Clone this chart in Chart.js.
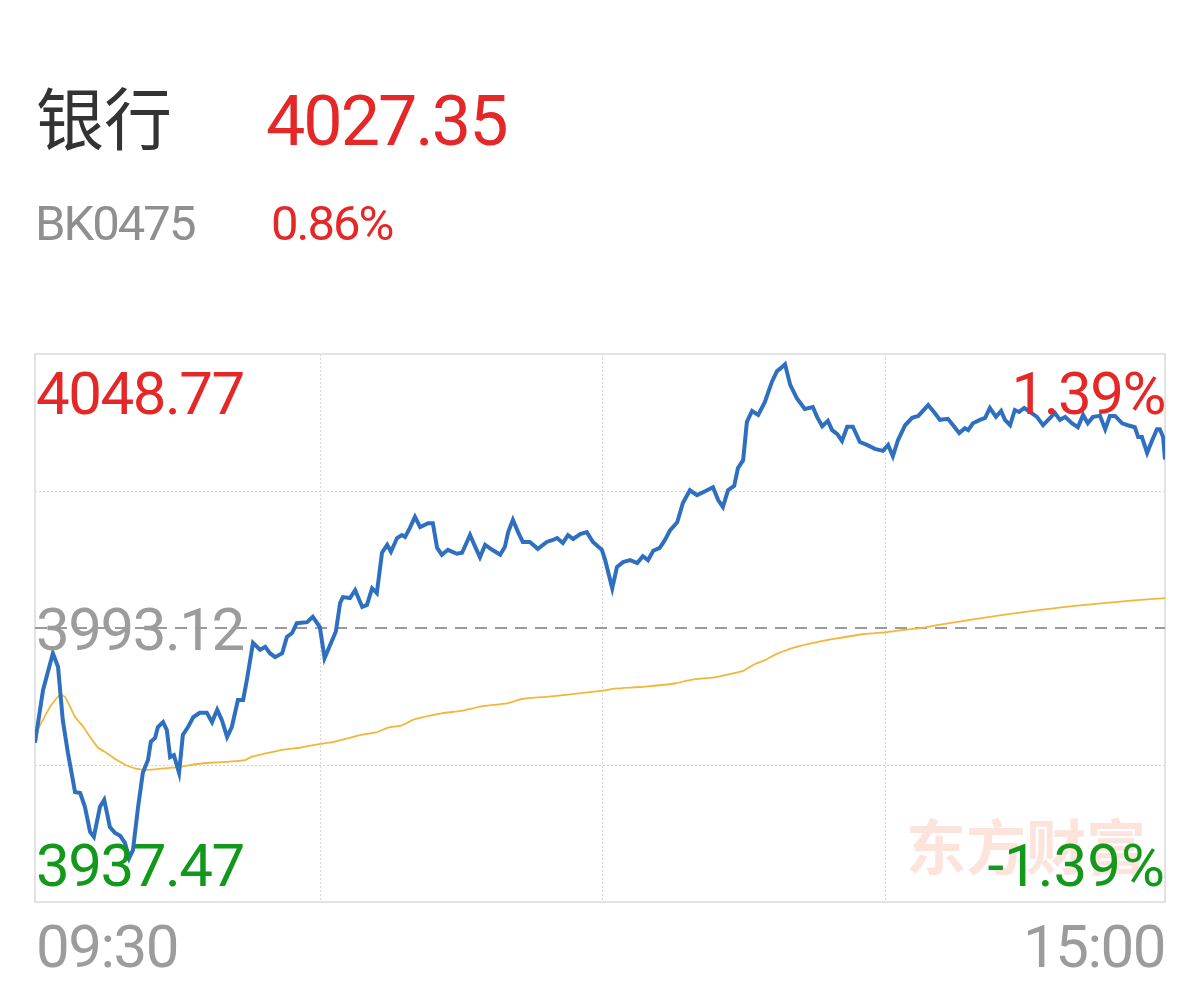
<!DOCTYPE html>
<html>
<head>
<meta charset="utf-8">
<script src="https://cdn.jsdelivr.net/npm/chart.js@4"></script>
<style>
  html, body { margin: 0; padding: 0; background: #fff; }
  #wrap { position: relative; width: 1200px; height: 986px; overflow: hidden; }
  #wrap canvas { position: absolute; left: 0; top: 0; }
  .t { position: absolute; white-space: nowrap; line-height: 1; font-family: Roboto, "Noto Sans", sans-serif; }
  .cjk { font-family: "Noto Sans CJK SC", sans-serif; }
</style>
</head>
<body>
<div id="wrap">
  <canvas id="time-chart" width="1200" height="986"></canvas>
  <div class="t cjk" style="left:36px;top:82px;font-size:68px;color:#333;">银行</div>
  <div class="t" style="left:266px;top:86px;font-size:70px;letter-spacing:-2px;color:#e42828;">4027.35</div>
  <div class="t" style="left:35px;top:199px;font-size:49px;letter-spacing:-2px;color:#8f8f8f;">BK0475</div>
  <div class="t" style="left:271px;top:199px;font-size:49px;letter-spacing:-2px;color:#e42828;">0.86%</div>
  <div class="t cjk" style="left:906px;top:814px;font-size:60px;font-weight:bold;color:#fce4dc;">东方财富</div>
  <div class="t" style="left:36px;top:364px;font-size:60px;letter-spacing:-1.5px;color:#e42828;">4048.77</div>
  <div class="t" style="left:36px;top:600px;font-size:60px;letter-spacing:-1.5px;color:#9c9c9c;">3993.12</div>
  <div class="t" style="left:36px;top:836px;font-size:60px;letter-spacing:-1.5px;color:#12981a;">3937.47</div>
  <div class="t" style="right:35px;top:364px;font-size:60px;letter-spacing:-1.5px;color:#e42828;">1.39%</div>
  <div class="t" style="right:35px;top:836px;font-size:60px;letter-spacing:0px;color:#12981a;">-1.39%</div>
  <div class="t" style="left:36px;top:917px;font-size:60px;letter-spacing:-1.5px;color:#9c9c9c;">09:30</div>
  <div class="t" style="right:35px;top:917px;font-size:60px;letter-spacing:-1.5px;color:#9c9c9c;">15:00</div>
</div>
<script>
// minutes since 09:30 (lunch break removed), 0..240
const priceMinutes = [0, 1.7, 3.8, 4.9, 5.9, 7.0, 8.5, 9.6, 10.6, 11.7, 12.5, 13.8, 14.7, 15.9, 17.0, 18.1, 19.1, 20.0, 20.8, 21.9,
  22.9, 24.0, 24.6, 25.5, 26.1, 27.2, 28.0, 28.7, 29.5, 30.6, 31.4, 32.5, 33.6, 35.0, 36.5, 37.6, 38.7, 39.7, 40.8, 41.8,
  43.1, 44.2, 45.0, 46.3, 47.8, 48.9, 49.9, 51.0, 52.5, 53.5, 54.6, 55.6, 57.8, 59.0, 60.5, 61.5, 63.9, 64.8, 65.4, 66.9,
  68.0, 69.5, 70.5, 71.6, 72.6, 73.7, 74.8, 75.6, 76.9, 77.9, 78.6, 79.6, 80.7, 81.8, 83.5, 84.5, 85.4, 86.4, 87.7, 89.6,
  90.7, 92.4, 93.5, 94.5, 95.6, 97.1, 98.8, 99.8, 100.5, 101.5, 102.6, 103.6, 105.1, 106.8, 108.7, 110.0, 110.9, 112.1, 113.2, 114.3,
  115.8, 117.2, 118.5, 120.4, 121.1, 122.6, 123.6, 124.9, 126.4, 127.9, 129.1, 130.2, 131.3, 132.7, 133.8, 134.9, 136.4, 137.6, 139.1, 140.6,
  141.9, 144.0, 145.1, 146.1, 147.2, 148.5, 149.3, 150.4, 151.2, 152.3, 153.6, 155.0, 156.5, 157.6, 158.4, 159.3, 160.4, 161.8, 163.5, 165.2,
  166.1, 167.2, 168.4, 169.3, 170.4, 171.4, 172.5, 173.7, 175.2, 176.7, 178.4, 180.1, 181.2, 182.2, 183.3, 184.8, 186.3, 187.6, 189.7, 191.1,
  192.2, 193.9, 195.0, 196.3, 197.5, 198.2, 199.2, 200.7, 201.8, 202.8, 204.1, 205.2, 206.0, 207.1, 208.1, 209.0, 210.1, 211.3, 212.8, 214.1,
  215.6, 216.6, 217.7, 218.8, 220.2, 221.5, 222.6, 223.6, 224.7, 226.2, 227.3, 228.3, 229.4, 230.9, 232.1, 233.6, 234.3, 235.1, 236.2, 237.3,
  238.3, 238.9, 239.6, 240];
const priceValues = [3969.8, 3980.5, 3988.0, 3985.2, 3974.4, 3967.7, 3959.8, 3959.6, 3956.8, 3951.7, 3950.7, 3956.8, 3958.2, 3952.7, 3951.5, 3950.9, 3949.5, 3946.4, 3948.0, 3956.8,
  3963.7, 3966.3, 3970.0, 3970.8, 3973.0, 3974.0, 3972.4, 3966.9, 3967.3, 3963.7, 3971.4, 3973.0, 3975.0, 3975.9, 3975.9, 3974.0, 3976.5, 3974.4, 3971.0, 3973.0,
  3978.5, 3978.5, 3982.6, 3990.1, 3988.7, 3989.3, 3988.0, 3987.2, 3988.0, 3991.3, 3992.1, 3994.1, 3994.3, 3995.4, 3993.3, 3987.0, 3992.4, 3998.2, 3999.4, 3999.2,
  4000.8, 3997.4, 3997.8, 4001.2, 4000.2, 4008.4, 4010.0, 4008.6, 4011.4, 4012.0, 4011.6, 4013.4, 4015.7, 4013.6, 4014.4, 4014.4, 4009.4, 4008.0, 4009.0, 4008.2,
  4008.4, 4012.0, 4009.6, 4007.5, 4010.0, 4009.0, 4008.0, 4009.6, 4012.6, 4015.1, 4012.6, 4010.6, 4010.6, 4009.2, 4010.6, 4011.0, 4011.4, 4010.4, 4012.0, 4011.2,
  4012.2, 4012.6, 4010.6, 4009.0, 4006.9, 4001.2, 4005.5, 4006.5, 4006.9, 4006.3, 4007.7, 4006.9, 4008.8, 4009.4, 4011.0, 4013.0, 4014.6, 4018.5, 4021.1, 4020.1,
  4020.7, 4021.7, 4019.1, 4017.7, 4021.1, 4022.0, 4025.6, 4027.2, 4035.0, 4037.2, 4036.4, 4039.0, 4043.1, 4045.3, 4045.9, 4046.7, 4042.5, 4039.8, 4037.6, 4038.0,
  4036.0, 4034.1, 4035.2, 4033.3, 4032.5, 4031.1, 4034.0, 4034.0, 4030.9, 4030.3, 4029.5, 4029.1, 4030.3, 4028.0, 4031.3, 4034.3, 4035.8, 4036.2, 4038.4, 4036.8,
  4035.4, 4035.6, 4034.3, 4032.7, 4033.7, 4033.3, 4034.7, 4035.4, 4035.8, 4037.8, 4036.0, 4037.2, 4035.4, 4034.3, 4037.4, 4037.0, 4037.8, 4037.0, 4036.0, 4034.3,
  4035.8, 4036.8, 4035.4, 4036.0, 4034.7, 4033.9, 4036.4, 4034.7, 4036.0, 4036.2, 4033.5, 4036.2, 4036.2, 4034.7, 4034.3, 4033.9, 4031.9, 4031.9, 4028.7, 4031.3,
  4033.5, 4033.5, 4031.9, 4027.35];

const avgMinutes = [0, 3.2, 5.3, 6.4, 8.5, 10.2, 11.7, 13.4, 15.3, 17.4, 19.5, 21.7, 23.8, 27.2, 30.8, 34.4, 37.8, 41.4, 44.6, 46.1,
  48.4, 52.7, 56.2, 60.7, 63.5, 69.2, 72.4, 75.0, 77.7, 80.7, 86.4, 90.5, 95.4, 100.2, 103.4, 109.2, 113.2, 120.6, 123.1, 129.6,
  136.1, 139.3, 144.2, 146.8, 150.4, 152.9, 154.8, 157.4, 161.0, 166.3, 170.3, 176.1, 181.0, 184.1, 188.0, 191.6, 205.6, 219.8, 234.1, 240];
const avgValues = [3971.4, 3977.1, 3979.5, 3979.1, 3975.1, 3973.1, 3971.0, 3968.8, 3967.7, 3966.3, 3965.2, 3964.5, 3964.3, 3964.6, 3964.9, 3965.5, 3965.8, 3966.0, 3966.3, 3967.0,
  3967.5, 3968.4, 3968.8, 3969.6, 3970.0, 3971.4, 3971.9, 3972.9, 3973.3, 3974.6, 3975.8, 3976.3, 3977.3, 3977.8, 3978.7, 3979.2, 3979.6, 3980.4, 3980.8, 3981.2,
  3981.9, 3982.6, 3983.1, 3983.6, 3984.4, 3985.8, 3986.5, 3987.8, 3989.1, 3990.3, 3991.0, 3991.9, 3992.3, 3992.7, 3993.1, 3993.7, 3995.8, 3997.5, 3998.8, 3999.2];

const prevClose = 3993.12;
const yMax = 4048.77;
const yMin = 3937.47;
const yGrid = [3937.47, 3965.295, 3993.12, 4020.945, 4048.77];
const xGrid = [0, 60, 120, 180, 240];

const framePlugin = {
  id: 'frame',
  beforeDatasetsDraw(chart) {
    const { ctx, scales: { x, y } } = chart;
    const left = x.getPixelForValue(0), right = x.getPixelForValue(240);
    const top = y.getPixelForValue(yMax), bottom = y.getPixelForValue(yMin);
    ctx.save();
    ctx.lineWidth = 1;
    ctx.strokeStyle = '#d6d6d6';
    ctx.setLineDash([2, 2]);
    xGrid.slice(1, -1).forEach(v => {
      const px = Math.round(x.getPixelForValue(v)) + 2.5;
      ctx.beginPath(); ctx.moveTo(px, top); ctx.lineTo(px, bottom); ctx.stroke();
    });
    yGrid.slice(1, -1).forEach(v => {
      if (v === prevClose) return;
      const py = Math.round(y.getPixelForValue(v)) + 0.5;
      ctx.beginPath(); ctx.moveTo(left, py); ctx.lineTo(right, py); ctx.stroke();
    });
    // border
    ctx.setLineDash([]);
    ctx.strokeStyle = '#e2e2e2';
    ctx.lineWidth = 2;
    ctx.strokeRect(left, top, right - left, bottom - top);
    // previous close dashed line
    const pc = y.getPixelForValue(prevClose);
    ctx.strokeStyle = '#9a9a9a';
    ctx.lineWidth = 2;
    ctx.setLineDash([12, 8]);
    ctx.beginPath(); ctx.moveTo(left, pc); ctx.lineTo(right, pc); ctx.stroke();
    ctx.restore();
  }
};

new Chart(document.querySelector('#time-chart').getContext('2d'), {
  type: 'line',
  data: {
    datasets: [{
      label: '价格',
      data: priceMinutes.map((m, i) => ({ x: m, y: priceValues[i] })),
      borderColor: '#2f6fbf',
      borderWidth: 4,
      pointRadius: 0,
      tension: 0
    }, {
      label: '均价',
      data: avgMinutes.map((m, i) => ({ x: m, y: avgValues[i] })),
      borderColor: '#f2b63c',
      borderWidth: 1.8,
      pointRadius: 0,
      tension: 0.2
    }]
  },
  options: {
    responsive: false,
    animation: false,
    layout: { padding: { left: 35, right: 35, top: 354, bottom: 84 } },
    plugins: { legend: { display: false }, tooltip: { enabled: false } },
    scales: {
      x: { type: 'linear', min: 0, max: 240, display: false },
      y: { min: yMin, max: yMax, display: false }
    }
  },
  plugins: [framePlugin]
});
</script>
</body>
</html>
